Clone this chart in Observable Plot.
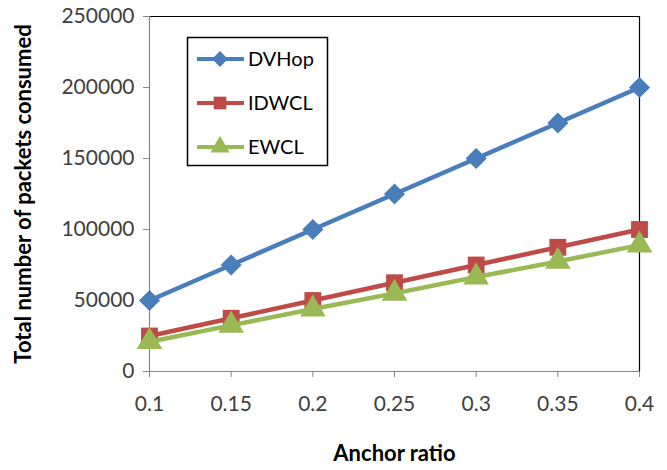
<!DOCTYPE html>
<html><head><meta charset="utf-8">
<script src="https://cdn.jsdelivr.net/npm/d3@7"></script>
<script src="https://cdn.jsdelivr.net/npm/@observablehq/plot@0.6"></script>
<style>
html,body{margin:0;padding:0;background:#fff;}
#chart{width:667px;height:470px;}
</style>
</head><body><div id="chart"></div>
<script>
const anchorRatio = [0.1, 0.15, 0.2, 0.25, 0.3, 0.35, 0.4];
const dvhop = [50000, 75000, 100000, 125000, 150000, 175000, 200000];
const idwcl = [25000, 37500, 50000, 62500, 75000, 87500, 100000];
const ewcl  = [21000, 32500, 44000, 55000, 66500, 77500, 89000];
const seriesNames = ["DVHop", "IDWCL", "EWCL"];
const seriesValues = [dvhop, idwcl, ewcl];
const lineColors = ["#4A7EBB", "#BE4B48", "#98B954"];
const symbols = ["diamond2", "square", "triangle"];
const symbolR = [9.5, 9.5, 9.5];
const yTicks = [0, 50000, 100000, 150000, 200000, 250000];

const rows = [];
seriesNames.forEach((s, i) => anchorRatio.forEach((x, j) => rows.push({series: s, x, y: seriesValues[i][j]})));

const font = "Lato, 'Open Sans', sans-serif";
const marks = [
  Plot.ruleY([250000], {stroke: "#000", strokeWidth: 1.2}),
  Plot.ruleX([0.4], {stroke: "#000", strokeWidth: 1.2}),
  Plot.ruleX([0.1], {stroke: "#868686", strokeWidth: 1.2}),
  Plot.ruleY([0], {stroke: "#868686", strokeWidth: 1.2}),
  Plot.axisY({ticks: yTicks, tickSize: 6, tickPadding: 9, stroke: "#868686", fill: "#404040",
    fontSize: 21, tickFormat: d => String(d), label: "Total number of packets consumed", labelAnchor: "center", labelArrow: false, labelOffset: 134}),
  Plot.axisX({ticks: anchorRatio, tickSize: 6, tickPadding: 19, stroke: "#868686", fill: "#404040",
    fontSize: 21, tickFormat: d => String(d), label: "Anchor ratio", labelAnchor: "center", labelArrow: false, labelOffset: 89})
];
seriesNames.forEach((s, i) => {
  const d = rows.filter(r => r.series === s);
  marks.push(Plot.line(d, {x: "x", y: "y", stroke: lineColors[i], strokeWidth: 4.5}));
  marks.push(Plot.dot(d, {x: "x", y: "y", symbol: () => symbols[i], fill: lineColors[i], stroke: "none", r: symbolR[i]}));
});

const chart = Plot.plot({
  width: 667, height: 470,
  marginLeft: 149, marginRight: 28, marginTop: 16, marginBottom: 99,
  style: {fontFamily: font, background: "#fff"},
  x: {domain: [0.1, 0.4]},
  y: {domain: [0, 250000]},
  marks
});
document.getElementById("chart").appendChild(chart);

// style axis labels
d3.select(chart).selectAll("g[aria-label='y-axis label'] text, g[aria-label='x-axis label'] text")
  .attr("font-weight", "bold").attr("fill", "#000").attr("font-size", 22);

// legend
const svg = d3.select(chart);
const lg = svg.append("g").attr("font-family", font).attr("text-anchor", "start");
lg.append("rect").attr("x", 187.5).attr("y", 37.5).attr("width", 140).attr("height", 128)
  .attr("fill", "#fff").attr("stroke", "#000").attr("stroke-width", 1.5);
const symMap = {diamond2: d3.symbolDiamond2, square: d3.symbolSquare, triangle: d3.symbolTriangle};
seriesNames.forEach((s, i) => {
  const cy = 59 + i * 44;
  lg.append("line").attr("x1", 197).attr("x2", 244).attr("y1", cy).attr("y2", cy)
    .attr("stroke", lineColors[i]).attr("stroke-width", 4);
  lg.append("path").attr("transform", `translate(220,${cy})`)
    .attr("d", d3.symbol(symMap[symbols[i]], Math.PI * 8 * 8 * 0.8)())
    .attr("fill", lineColors[i]);
  lg.append("text").attr("x", 248).attr("y", cy).attr("dy", "0.35em").attr("text-anchor", "start")
    .attr("font-size", 20).attr("fill", "#000").text(s);
});
</script>
</body></html>
